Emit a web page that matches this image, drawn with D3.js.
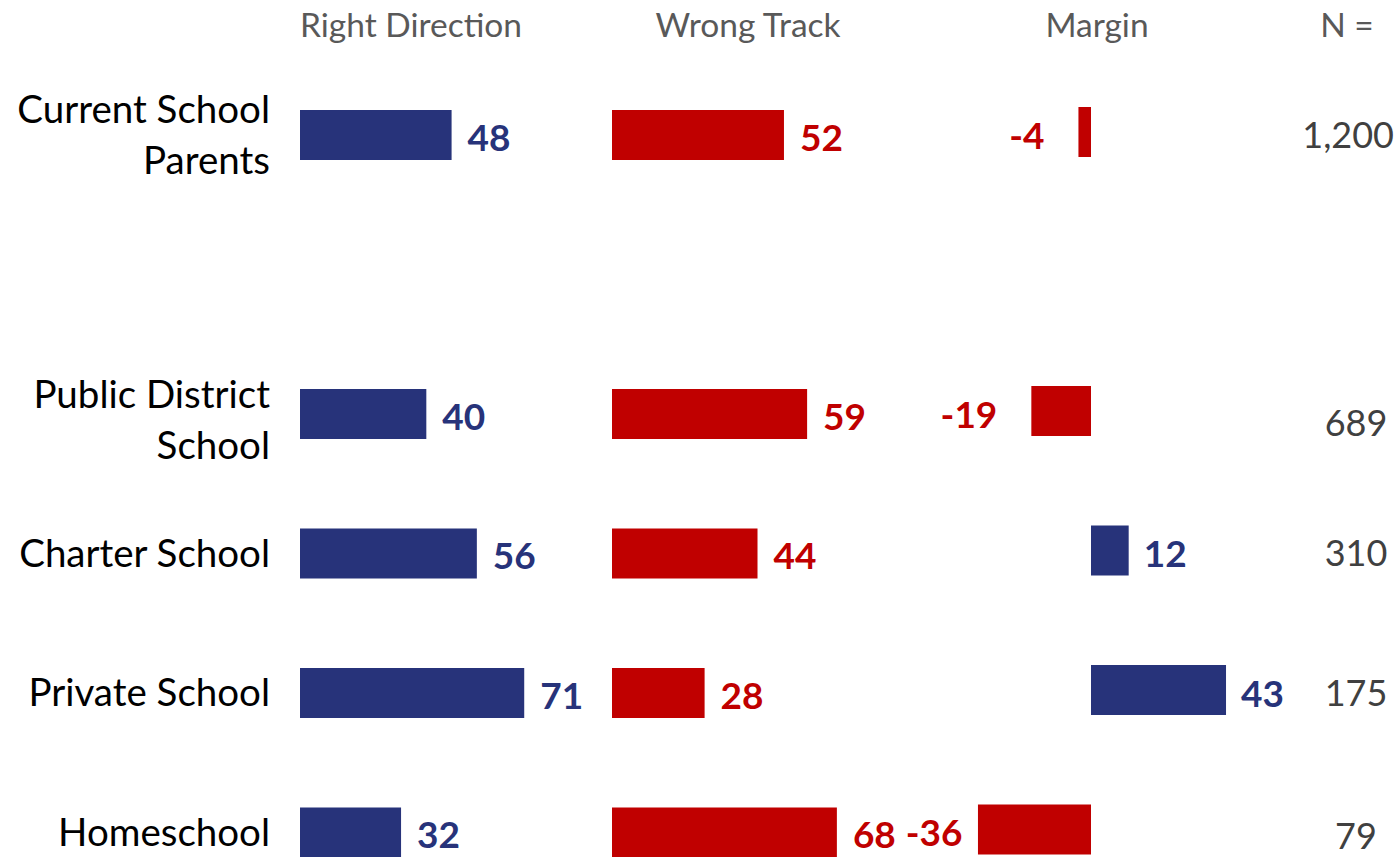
<!DOCTYPE html>
<html>
<head>
<meta charset="utf-8">
<script src="https://cdn.jsdelivr.net/npm/d3@7"></script>
<style>
  html, body { margin: 0; padding: 0; background: #fff; }
  svg { display: block; }
  text { font-family: Lato, "Open Sans", sans-serif; }
</style>
</head>
<body>
<svg id="chart" width="1399" height="857"></svg>
<script>
// ---- data ----
const categories = ["Current School Parents", "Public District School", "Charter School", "Private School", "Homeschool"];
const categoryLines = [["Current School", "Parents"], ["Public District", "School"], ["Charter School"], ["Private School"], ["Homeschool"]];
const rightDirection = [48, 40, 56, 71, 32];
const wrongTrack = [52, 59, 44, 28, 68];
const margin = [-4, -19, 12, 43, -36];
const nValues = ["1,200", "689", "310", "175", "79"];
const headers = ["Right Direction", "Wrong Track", "Margin", "N ="];

// ---- layout ----
const BLUE = "#27337a", RED = "#c00000";
const svg = d3.select("#chart");

const slots = [categories[0], "__gap__", ...categories.slice(1)];
const y = d3.scalePoint().domain(slots).range([135, 832.5]);
const barH = 50;

const xRD = d3.scaleLinear().domain([0, 100]).range([300, 300 + 315.8]);
const xWT = d3.scaleLinear().domain([0, 100]).range([612, 612 + 330.7]);
const xM = d3.scaleLinear().domain([-40, 50]).range([1091 - 40 * 3.14, 1091 + 50 * 3.14]);

const rows = categories.map((c, i) => ({
  cat: c, lines: categoryLines[i], rd: rightDirection[i], wt: wrongTrack[i], m: margin[i], n: nValues[i]
}));

// headers
const headerX = [411, 748, 1097, 1347];
svg.selectAll("text.header").data(headers).join("text")
  .attr("class", "header")
  .attr("x", (d, i) => headerX[i]).attr("y", 25)
  .attr("dy", "0.35em").attr("text-anchor", "middle")
  .attr("font-size", 33.5).attr("fill", "#595959").text(d => d);

// category labels
const lineGap = 51;
rows.forEach((r, i) => {
  const cy = y(r.cat);
  const n = r.lines.length;
  const off = n > 1 ? (i === 0 ? 0 : 6) : 0;
  r.lines.forEach((ln, j) => {
    svg.append("text")
      .attr("x", 270)
      .attr("y", cy + off + (j - (n - 1) / 2) * lineGap)
      .attr("dy", "0.35em").attr("text-anchor", "end")
      .attr("font-size", 38.5).attr("fill", "#000").text(ln);
  });
});

// Right direction bars
svg.selectAll("rect.rd").data(rows).join("rect")
  .attr("class", "rd")
  .attr("x", xRD(0)).attr("y", d => y(d.cat) - barH / 2)
  .attr("width", d => xRD(d.rd) - xRD(0)).attr("height", barH)
  .attr("fill", BLUE);
svg.selectAll("text.rdl").data(rows).join("text")
  .attr("class", "rdl")
  .attr("x", d => xRD(d.rd) + 16).attr("y", d => y(d.cat) + 3)
  .attr("dy", "0.35em").attr("font-size", 37).attr("font-weight", "bold")
  .attr("fill", BLUE).text(d => d.rd);

// Wrong track bars
svg.selectAll("rect.wt").data(rows).join("rect")
  .attr("class", "wt")
  .attr("x", xWT(0)).attr("y", d => y(d.cat) - barH / 2)
  .attr("width", d => xWT(d.wt) - xWT(0)).attr("height", barH)
  .attr("fill", RED);
const wtLabels = svg.selectAll("text.wtl").data(rows).join("text")
  .attr("class", "wtl")
  .attr("x", d => xWT(d.wt) + 16).attr("y", d => y(d.cat) + 3)
  .attr("dy", "0.35em").attr("font-size", 37).attr("font-weight", "bold")
  .attr("fill", RED).text(d => d.wt);

// Margin bars
svg.selectAll("rect.m").data(rows).join("rect")
  .attr("class", "m")
  .attr("x", d => Math.min(xM(0), xM(d.m))).attr("y", d => y(d.cat) - barH / 2 - 3)
  .attr("width", d => Math.abs(xM(d.m) - xM(0))).attr("height", barH)
  .attr("fill", d => d.m < 0 ? RED : BLUE);
const mLabels = svg.selectAll("text.ml").data(rows).join("text")
  .attr("class", "ml")
  .attr("x", d => d.m < 0 ? xM(d.m) - 34 : xM(d.m) + 15)
  .attr("y", d => y(d.cat) + 1)
  .attr("dy", "0.35em").attr("font-size", 37).attr("font-weight", "bold")
  .attr("text-anchor", d => d.m < 0 ? "end" : "start")
  .attr("fill", d => d.m < 0 ? RED : BLUE).text(d => d.m);

// avoid collisions between negative margin labels and wrong-track labels
const wtNodes = wtLabels.nodes();
mLabels.each(function (d, i) {
  if (d.m >= 0) return;
  const mb = this.getBBox();
  const wb = wtNodes[i].getBBox();
  const minLeft = wb.x + wb.width + 10;
  if (mb.x < minLeft) {
    const shift = minLeft - mb.x;
    d3.select(this).attr("x", +d3.select(this).attr("x") + shift);
  }
});

// N values (centred, kept inside the right edge)
svg.selectAll("text.nv").data(rows).join("text")
  .attr("class", "nv")
  .attr("x", 1356).attr("y", (d, i) => y(d.cat) + (i === 1 ? 9 : 0) + (i === 4 ? 4 : 0))
  .attr("dy", "0.35em").attr("text-anchor", "middle")
  .attr("font-size", 36).attr("fill", "#404040").text(d => d.n)
  .each(function () {
    const b = this.getBBox();
    const over = b.x + b.width - 1394;
    if (over > 0) d3.select(this).attr("x", 1356 - over);
  });
</script>
</body>
</html>
